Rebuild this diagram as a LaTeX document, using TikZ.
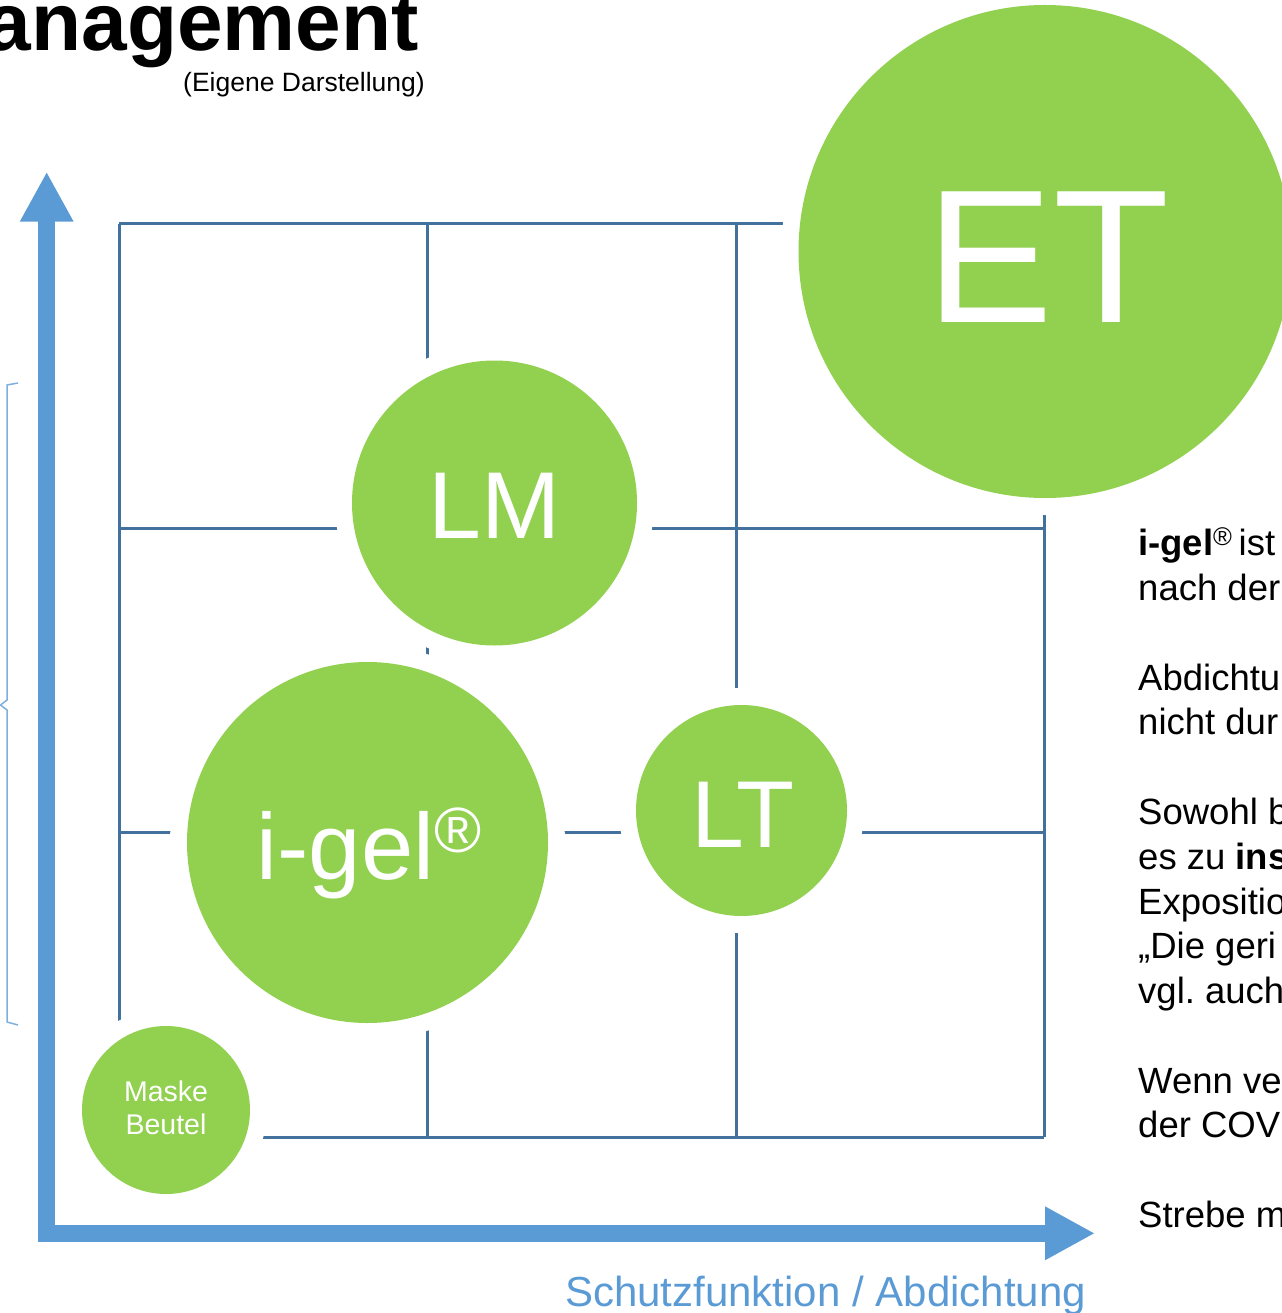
\documentclass[tikz,border=0pt]{standalone}
\usepackage{fontspec}
\setmainfont{Liberation Sans}
\usetikzlibrary{arrows.meta}
\frenchspacing

\definecolor{leaf}{HTML}{92D050}
\definecolor{axisblue}{HTML}{5B9BD5}
\definecolor{gridblue}{HTML}{41719C}
\definecolor{bracketblue}{HTML}{7DAFE0}

\newcommand{\fsz}[1]{\fontsize{#1}{1.2\dimexpr#1pt\relax}\selectfont}

\begin{document}
\begin{tikzpicture}[x=1pt,y=-1pt,
  gridline/.style={draw=gridblue, line width=3pt},
  axisarrow/.style={draw=axisblue, line width=16.7pt, line join=miter,
    {Triangle[width=50pt,length=50pt]}-{Triangle[width=50pt,length=50pt]}},
  bubble/.style={circle, inner sep=0pt, fill=leaf, draw=none,
    preaction={draw=white, line width=34pt}},
  bubbletext/.style={text=white, inner sep=0pt, anchor=base},
  sidetext/.style={anchor=base west, inner sep=0pt, font=\fsz{36.5}},
]
\useasboundingbox (0,0) rectangle (1281,1313);

% heading
\node[anchor=base east, inner sep=0pt, font=\bfseries\fsz{82}] (title) at (419,51) {anagement};
\node[anchor=base east, inner sep=0pt, font=\fsz{26.5}] (source) at (425,92) {(Eigene Darstellung)};

% grid corners
\coordinate (g00) at (119,224);  \coordinate (g30) at (1044,224);
\coordinate (g01) at (119,528);  \coordinate (g31) at (1044,528);
\coordinate (g02) at (119,832);  \coordinate (g32) at (1044,832);
\coordinate (g03) at (119,1137); \coordinate (g33) at (1044,1137);
\coordinate (g10) at (427,224);  \coordinate (g13) at (427,1137);
\coordinate (g20) at (736,224);  \coordinate (g23) at (736,1137);

% 3x3 grid
\draw[gridline] (g00) -- (g30);
\draw[gridline] (g01) -- (g31);
\draw[gridline] (g02) -- (g32);
\draw[gridline] (g03) -- (g33);
\draw[gridline] (g00) -- (g03);
\draw[gridline] (g10) -- (g13);
\draw[gridline] (g20) -- (g23);
\draw[gridline] (g30) -- (g33);

% axes
\coordinate (ytop) at (46.7,171.7);
\coordinate (origin) at (46.7,1233.3);
\coordinate (xend) at (1095,1233.3);
\draw[axisarrow] (ytop) -- (origin) -- (xend);

% brace on the left
\coordinate (b1) at (18,383);
\coordinate (b2) at (7,385);
\coordinate (b3) at (7,700);
\coordinate (b4) at (0.5,705);
\coordinate (b5) at (7,710);
\coordinate (b6) at (7,1022);
\coordinate (b7) at (18,1025);
\draw[bracketblue, line width=1.5pt] (b1) -- (b2) -- (b3) -- (b4) -- (b5) -- (b6) -- (b7);

% bubbles
\node[bubble, minimum size=493pt] (et) at (1045,251.5) {};
\node[bubble, minimum size=285pt] (lm) at (494.5,503) {};
\node[bubble, minimum size=361pt] (igel) at (367.5,842.5) {};
\node[bubble, minimum size=211pt] (lt) at (741.5,810.5) {};
\node[bubble, minimum size=168pt] (mb) at (166,1110) {};

% bubble labels
\node[bubbletext, font=\fsz{190}] (et-label) at (1048,323) {ET};
\node[bubbletext, font=\fsz{95}] (lm-label) at (494.5,538) {LM};
\node[bubbletext, font=\fsz{94}] (igel-label) at (369,879) {i-gel\raisebox{27pt}{\fsz{64}®}};
\node[bubbletext, font=\fsz{95}] (lt-label) at (743,847) {LT};
\node[bubbletext, font=\fsz{28.5}, align=center] (mb-label) at (166,1134) {Maske\\[-1.2pt]Beutel};

% axis caption
\node[anchor=base west, inner sep=0pt, text=axisblue, font=\fsz{42}] (xlabel) at (565,1306) {Schutzfunktion / Abdichtung};

% text column on the right
\node[sidetext] (t1) at (1138,555) {{\bfseries i-gel}\textsuperscript{®}\,ist};
\node[sidetext] (t2) at (1138,600) {nach der};
\node[sidetext] (t3) at (1138,690) {Abdichtu};
\node[sidetext] (t4) at (1138,734) {nicht dur};
\node[sidetext] (t5) at (1138,824) {Sowohl b};
\node[sidetext] (t6) at (1138,869) {es zu {\bfseries ins}};
\node[sidetext] (t7) at (1138,914) {Expositio};
\node[sidetext] (t8) at (1138,958) {„Die geri};
\node[sidetext] (t9) at (1138,1003) {vgl. auch};
\node[sidetext] (t10) at (1138,1093) {Wenn ve};
\node[sidetext] (t11) at (1138,1137) {der COV};
\node[sidetext] (t12) at (1138,1227) {Strebe m};
\end{tikzpicture}
\end{document}
